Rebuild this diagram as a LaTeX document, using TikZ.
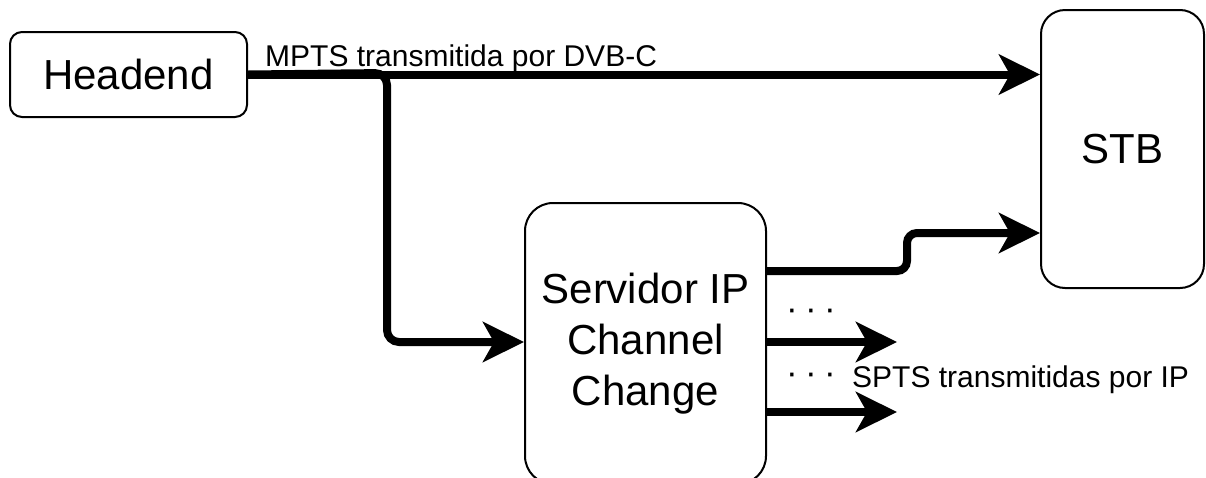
\documentclass[tikz,border=0pt]{standalone}
\usepackage{fontspec}
\setmainfont{Liberation Sans}
\usetikzlibrary{arrows.meta}
\tikzset{
  block/.style={draw=black, line width=2pt, fill=white, inner sep=0pt,
    align=center, font=\fontsize{42}{51}\selectfont},
  flow/.style={line width=8pt, rounded corners=12pt,
    -{Stealth[length=41pt, width=40pt, inset=11pt]}},
  lbl/.style={inner sep=0pt, font=\fontsize{30}{36}\selectfont},
  dotrow/.style={inner sep=0pt, anchor=base, font=\fontsize{35}{42}\selectfont},
}
\begin{document}
\begin{tikzpicture}[x=1pt, y=-1pt]
\useasboundingbox (0,0) rectangle (1206,477);

% blocks
\node[block, rounded corners=12pt, minimum width=237pt, minimum height=85pt]
  (hd) at (128.5,74.5) {Headend};
\node[block, rounded corners=28pt, minimum width=241pt, minimum height=281pt]
  (srv) at (645.5,343.5) {Servidor IP\\Channel\\Change};
\node[block, rounded corners=24pt, minimum width=163pt, minimum height=278pt]
  (stb) at (1122.5,149) {STB};

% bends of the connectors
\coordinate (split) at (387,73);
\coordinate (drop)  at (387,342);
\coordinate (up1)   at (907,271);
\coordinate (up2)   at (907,233);
\coordinate (outA)  at (897,342);
\coordinate (outB)  at (897,412);

% MPTS over DVB-C to the STB
\draw[flow] (hd.east) -- (stb.west |- hd.east);
% branch to the channel change server
\draw[flow] (hd.east) -- (split) -- (drop) -- (srv.west |- drop);
% SPTS streams over IP
\draw[flow, rounded corners=10pt] (srv.east |- up1) -- (up1) -- (up2) -- (stb.west |- up2);
\draw[flow] (srv.east |- outA) -- (outA);
\draw[flow] (srv.east |- outB) -- (outB);

% labels
\node[lbl, anchor=base west] (mpts) at (265,66) {MPTS transmitida por DVB-C};
\node[dotrow] (dots1) at (811,320) {·\kern7.3pt·\kern7.3pt·};
\node[dotrow] (dots2) at (811,384) {·\kern7.3pt·\kern7.3pt·};
\node[lbl, anchor=base west] (spts) at (852,387) {SPTS transmitidas por IP};
\end{tikzpicture}
\end{document}
